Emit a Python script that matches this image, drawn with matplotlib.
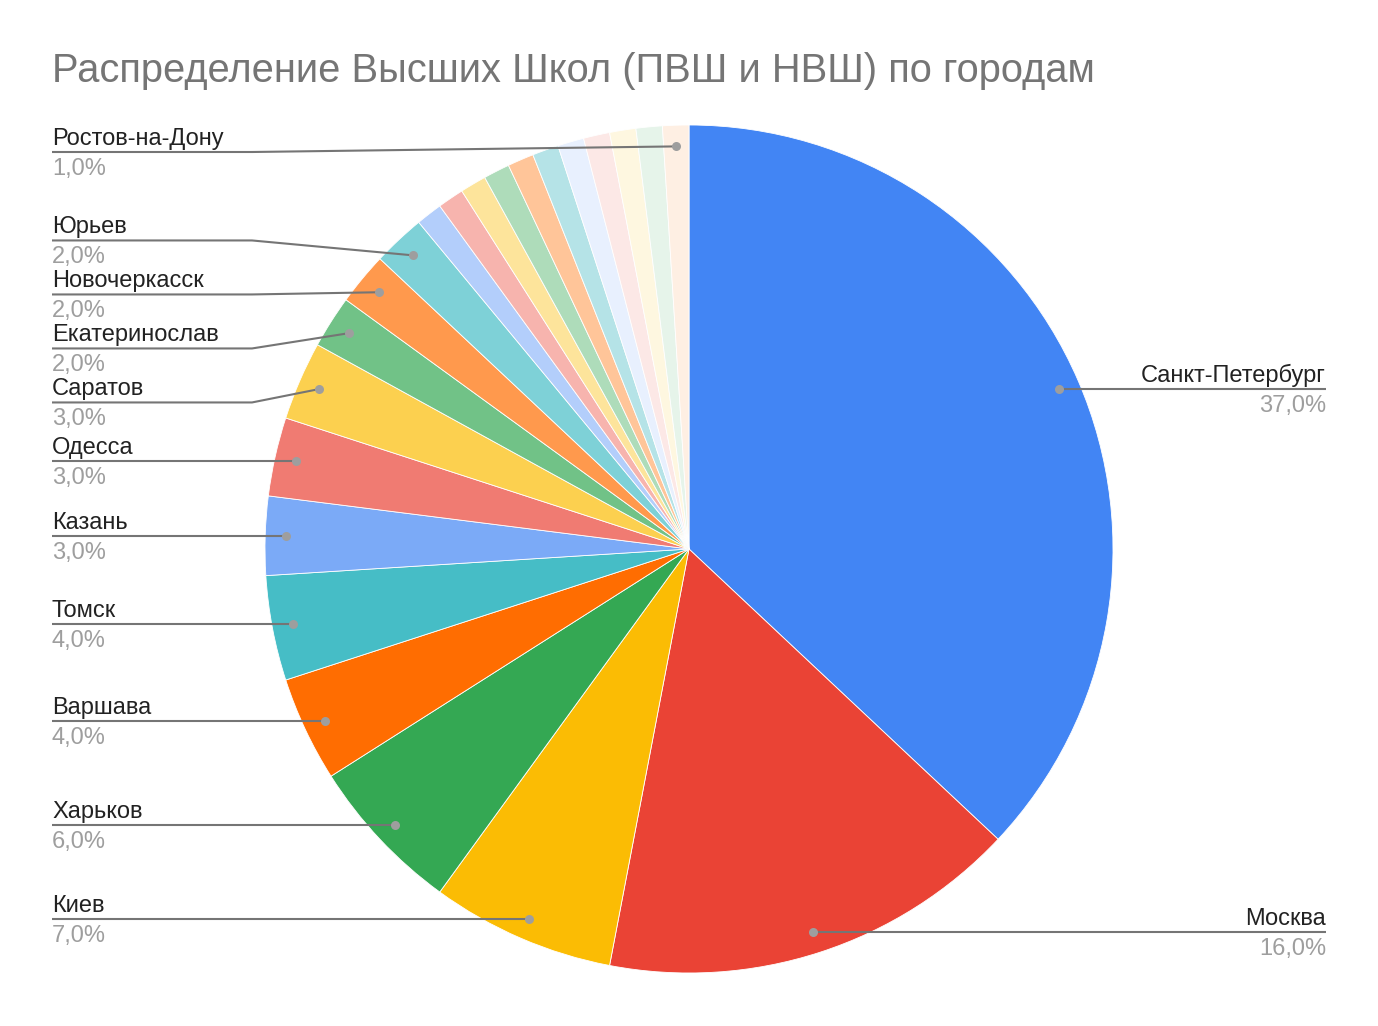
import matplotlib
matplotlib.use("Agg")
import matplotlib.pyplot as plt
import numpy as np

plt.rcParams['font.family'] = ['Liberation Sans', 'DejaVu Sans']

title = "Распределение Высших Школ (ПВШ и НВШ) по городам"
cities = ["Санкт-Петербург", "Москва", "Киев", "Харьков", "Варшава", "Томск",
          "Казань", "Одесса", "Саратов", "Екатеринослав", "Новочеркасск", "Юрьев",
          "", "", "", "", "", "", "", "", "", "", "Ростов-на-Дону"]
values = [37, 16, 7, 6, 4, 4, 3, 3, 3, 2, 2, 2, 1, 1, 1, 1, 1, 1, 1, 1, 1, 1, 1]
colors = ["#4285f4", "#ea4335", "#fbbc04", "#34a853", "#ff6d01", "#46bdc6",
          "#7baaf7", "#f07b72", "#fcd04f", "#71c287", "#ff994d", "#7ed1d7",
          "#b3cefb", "#f7b4ae", "#fde49b", "#aedcba", "#ffc599", "#b5e3e7",
          "#e8f0fe", "#fce8e6", "#fef7e0", "#e6f4ea", "#feefe3"]

W, H = 1378, 1026
fig = plt.figure(figsize=(W / 100, H / 100), dpi=100)
ax = fig.add_axes([0, 0, 1, 1])
cx, cy, R = 689, 549, 424
ax.pie(values, colors=colors, startangle=-90, counterclock=True,
       center=(cx, cy), radius=R,
       wedgeprops=dict(edgecolor='white', linewidth=0.6))
ax.set_xlim(0, W)
ax.set_ylim(H, 0)
ax.set_aspect('equal')
ax.axis('off')

ax.text(52, 82, title, fontsize=28.7, color='#757575', ha='left', va='baseline')

total = float(sum(values))
cum = np.cumsum([0] + values[:-1])
items = []
for name, v, c0 in zip(cities, values, cum):
    if not name:
        continue
    ang = np.deg2rad(-90 + 360 * (c0 + v / 2) / total)
    dx = cx + 0.95 * R * np.cos(ang)
    dy = cy + 0.95 * R * np.sin(ang)
    pct = f"{v / total * 100:.1f}%".replace('.', ',')
    items.append(dict(name=name, pct=pct, dx=dx, dy=dy, side='L' if dx < cx else 'R'))


def place(group, spacing=54, top=152, shift=4):
    group.sort(key=lambda d: d['dy'])
    clusters = [[d] for d in group]
    changed = True
    while changed:
        changed = False
        pos = []
        for cl in clusters:
            m = np.mean([d['dy'] for d in cl])
            n = len(cl)
            ys = [m + (i - (n - 1) / 2) * spacing for i in range(n)]
            pos.append(ys)
        for i in range(len(clusters) - 1):
            if pos[i + 1][0] - pos[i][-1] < spacing:
                clusters[i] = clusters[i] + clusters[i + 1]
                del clusters[i + 1]
                changed = True
                break
    for cl in clusters:
        m = np.mean([d['dy'] for d in cl])
        n = len(cl)
        for i, d in enumerate(cl):
            d['ly'] = m + (i - (n - 1) / 2) * spacing + (shift if n > 1 else 0)
    prev = top - spacing
    for d in group:
        if d['ly'] < prev + spacing:
            d['ly'] = prev + spacing
        prev = d['ly']


place([d for d in items if d['side'] == 'L'])
place([d for d in items if d['side'] == 'R'])

line_c = '#757575'
for d in items:
    ly = d['ly']
    if d['side'] == 'L':
        xs = [52, 252, d['dx']]
        tx, ha = 52, 'left'
    else:
        xs = [1326, 1126, d['dx']]
        tx, ha = 1326, 'right'
    ax.plot(xs, [ly, ly, d['dy']], color=line_c, lw=1.5, zorder=3,
            solid_capstyle='butt')
    ax.plot([d['dx']], [d['dy']], 'o', ms=6.5, color='#9e9e9e', zorder=4,
            markeredgewidth=0)
    ax.text(tx, ly - 7, d['name'], fontsize=17, color='#222222', ha=ha, va='baseline')
    ax.text(tx, ly + 23, d['pct'], fontsize=17, color='#9e9e9e', ha=ha, va='baseline')

fig.savefig("out.png", dpi=100, facecolor='white')
